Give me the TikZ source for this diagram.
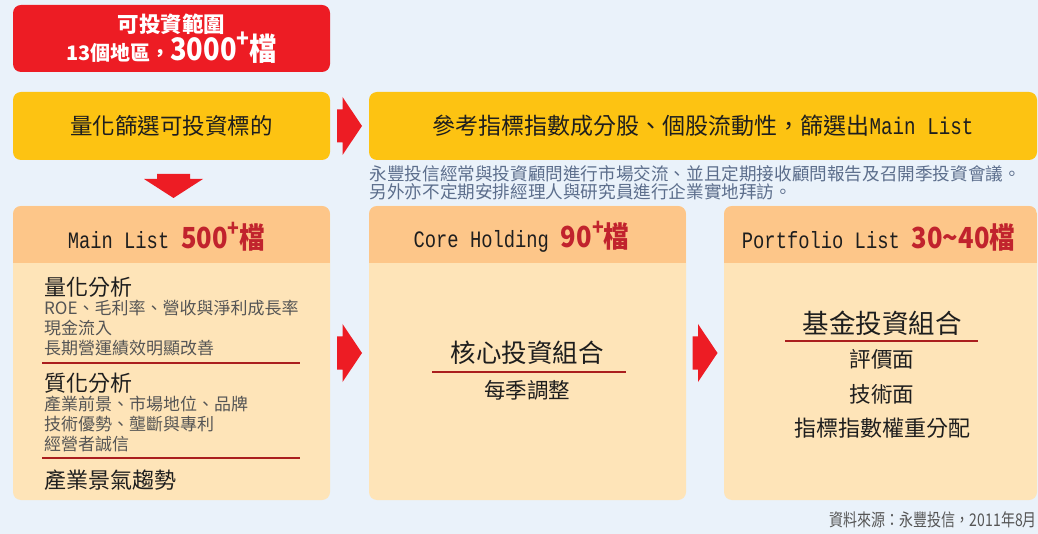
\documentclass[tikz,border=0pt]{standalone}
\usepackage{fontspec}
\setmainfont{Noto Sans CJK TC}
\newfontfamily\monofont[FakeStretch=0.8]{Liberation Mono}
\newfontfamily\narrowfont[FakeStretch=0.8]{Noto Sans CJK TC}
\newfontfamily\numfont[FakeStretch=0.88]{Noto Sans CJK TC}
\usepackage{tikz}
\usetikzlibrary{positioning,calc}

\definecolor{bgblue}{RGB}{234,242,250}
\definecolor{boxred}{RGB}{237,28,36}
\definecolor{boxyellow}{RGB}{253,195,18}
\definecolor{hdrorange}{RGB}{253,198,137}
\definecolor{panelbody}{RGB}{254,228,184}
\definecolor{numred}{RGB}{193,35,45}
\definecolor{notegray}{RGB}{92,110,140}
\definecolor{subgray}{RGB}{85,85,85}
\definecolor{darktxt}{RGB}{30,30,30}
\definecolor{linered}{RGB}{170,30,30}

\newcommand{\fsz}[1]{\fontsize{#1}{1.2\dimexpr #1pt\relax}\selectfont}
\newcommand{\plussup}[1]{\raisebox{0.42em}{\fsz{#1}+}}

\tikzset{
  topbox/.style={rounded corners=8pt,inner sep=0pt,outer sep=0pt,minimum height=68pt},
  panel/.style={fill=panelbody,rounded corners=8pt,inner sep=0pt,outer sep=0pt,
    minimum width=317pt,minimum height=294pt},
  hdrtext/.style={inner sep=0pt,text=darktxt},
  headtxt/.style={inner sep=0pt,text=darktxt,font=\fsz{22}},
  subtxt/.style={inner sep=0pt,text=subgray,align=left,font=\fontsize{17}{19.6}\selectfont},
  midtxt/.style={inner sep=0pt,text=darktxt},
  divider/.style={linered,line width=1.1pt},
  arrowfill/.style={fill=boxred},
}

\begin{document}
\begin{tikzpicture}[x=1pt,y=-1pt]
\useasboundingbox (0,0) rectangle (1038,534);
\fill[bgblue] (0,0) rectangle (1038,534);

% top row
\node[topbox,fill=boxred,minimum width=317pt,minimum height=67pt,align=center,text=white,
  font=\bfseries] (univ) at (171.5,38.5)
  {\fsz{21.5}可投資範圍\\[-4pt]
   \fsz{20}13個地區，{\numfont\fsz{31}3000\plussup{24}檔}};
\node[topbox,fill=boxyellow,minimum width=317pt,text=darktxt,font=\fsz{22.5}] (quant) at (171.5,126) {量化篩選可投資標的};
\node[topbox,fill=boxyellow,minimum width=668pt,text=darktxt,font=\fsz{23}] (ref) at (703,126)
  {參考指標指數成分股、個股流動性，篩選出{\monofont\fsz{24}Main List}};
\node[anchor=west,inner sep=0pt,text=notegray,align=left,font=\fontsize{17.6}{17.6}\selectfont] (note)
  at (369.5,183) {永豐投信經常與投資顧問進行市場交流、並且定期接收顧問報告及召開季投資會議。\\另外亦不定期安排經理人與研究員進行企業實地拜訪。};

% panels
\node[panel] (mainl) at (171.5,353) {};
\node[panel] (core) at (527.5,353) {};
\node[panel,minimum width=313pt] (port) at (880.5,353) {};
\foreach \p in {mainl,core,port}{
  \begin{scope}
    \clip[rounded corners=8pt] (\p.north west) rectangle (\p.south east);
    \fill[hdrorange] (\p.north west) rectangle ($(\p.north east)+(0,57)$);
  \end{scope}
}
\node[hdrtext] (mainlh) at ($(mainl.north)+(-5,31)$)
  {{\monofont\fsz{23.5}Main List}\hspace{12pt}{\numfont\bfseries\color{numred}\fsz{29}500\plussup{22}檔}};
\node[hdrtext] (coreh) at ($(core.north)+(-6,31)$)
  {{\monofont\fsz{23.5}Core Holding}\hspace{12pt}{\numfont\bfseries\color{numred}\fsz{29}90\plussup{22}檔}};
\node[hdrtext] (porth) at ($(port.north)+(-2,31)$)
  {{\monofont\fsz{23.5}Portfolio List}\hspace{12pt}{\numfont\bfseries\color{numred}\fsz{29}30\textasciitilde 40檔}};

% main list body
\node[headtxt,anchor=west] (qa) at (44,287) {量化分析};
\node[subtxt,anchor=west] (qad) at (44,328) {ROE、毛利率、營收與淨利成長率\\現金流入\\長期營運績效明顯改善};
\draw[divider] (42,363) -- (300,363);
\node[headtxt,anchor=west] (qb) at (44,383) {質化分析};
\node[subtxt,anchor=west] (qbd) at (44,424) {產業前景、市場地位、品牌\\技術優勢、壟斷與專利\\經營者誠信};
\draw[divider] (42,458) -- (300,458);
\node[headtxt,anchor=west] (qc) at (44,480) {產業景氣趨勢};

% core holding body
\node[midtxt,font=\fsz{25.5}] (coret) at (527,353) {核心投資組合};
\draw[divider] (432,372) -- (626,372);
\node[midtxt,font=\fsz{21.5}] (cored) at (527,390) {每季調整};

% portfolio body
\node[midtxt,font=\fsz{26.5}] (portt) at (882,323) {基金投資組合};
\draw[divider] (785,341) -- (978,341);
\node[midtxt,font=\fsz{21.5}] (porta) at (882,359) {評價面};
\node[midtxt,font=\fsz{21.5}] (portb) at (882,394) {技術面};
\node[midtxt,font=\fsz{22}] (portc) at (882,428) {指標指數權重分配};

% arrows
\coordinate (a1) at ($(quant.east)!.5!(ref.west)$);
\coordinate (a2) at ($(mainl.east)!.5!(core.west)$);
\coordinate (a3) at ($(core.east)!.5!(port.west)$);
\foreach \a in {a1,a2,a3}
  \fill[arrowfill,shift={(\a)}] (-12.5,-16.5) -- (-7,-16.5) -- (-7,-29) -- (12.5,0)
    -- (-7,29) -- (-7,16.5) -- (-12.5,16.5) -- cycle;
\coordinate (a0) at ($(quant.south)+(2,14)$);
\fill[arrowfill,shift={(a0)}] (-16.5,0) -- (16.5,0) -- (16.5,5) -- (29.5,5) -- (0,24)
  -- (-29.5,5) -- (-16.5,5) -- cycle;

\node[anchor=east,inner sep=0pt,text=subgray,font=\narrowfont\fsz{17.5}] (src) at (1037,520)
  {資料來源：永豐投信，2011年8月};
\end{tikzpicture}
\end{document}
